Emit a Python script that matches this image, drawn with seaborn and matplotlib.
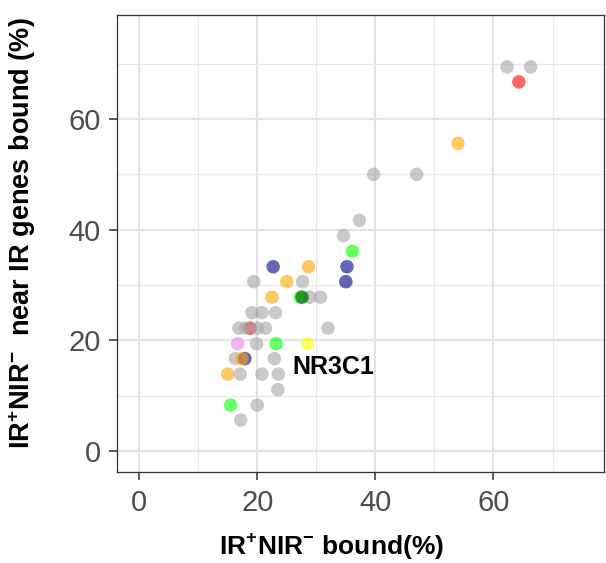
import matplotlib
matplotlib.use("Agg")
import matplotlib.pyplot as plt
import seaborn as sns
import pandas as pd
from matplotlib.ticker import MultipleLocator

# values (% bound)
# points that sit underneath the grey ones
under_x = [18.8]
under_y = [22.2]
under_group = ["red"]

grey_x = [62.3, 66.3, 39.7, 47.0, 37.3, 34.6, 19.4, 27.7, 28.9, 30.7, 19.1, 20.8, 23.1,
          16.9, 18.0, 20.0, 21.4, 32.0, 19.9, 16.3, 22.9, 17.1, 20.8, 23.6, 23.5, 20.0, 17.2]
grey_y = [69.4, 69.4, 50.0, 50.0, 41.7, 38.9, 30.6, 30.6, 27.8, 27.8, 25.0, 25.0, 25.0,
          22.2, 22.2, 22.2, 22.2, 22.2, 19.4, 16.7, 16.7, 13.9, 13.9, 13.9, 11.1, 8.3, 5.6]

hit_x = [22.7, 35.2, 35.0, 17.9, 64.3, 54.0, 28.7, 25.0, 22.5, 17.4, 15.0,
         36.1, 27.3, 23.2, 15.5, 27.6, 28.5, 16.7]
hit_y = [33.3, 33.3, 30.6, 16.7, 66.7, 55.6, 33.3, 30.6, 27.8, 16.7, 13.9,
         36.1, 27.8, 19.4, 8.3, 27.8, 19.4, 19.4]
hit_group = ["blue", "blue", "blue", "blue", "red", "orange", "orange", "orange", "orange",
             "orange", "orange", "green", "green", "green", "green", "darkgreen",
             "yellow", "violet"]

label_text = "NR3C1"
label_pos = (26.0, 15.2)

palette = {
    "grey": "#a6a6a6",
    "blue": "#00008B",
    "red": "#FF0000",
    "orange": "#FFA500",
    "green": "#00FF00",
    "darkgreen": "#005000",
    "yellow": "#FFFF00",
    "violet": "#EE82EE",
}

df = pd.DataFrame({
    "x": under_x + grey_x + hit_x,
    "y": under_y + grey_y + hit_y,
    "group": under_group + ["grey"] * len(grey_x) + hit_group,
})

sns.set_theme(style="whitegrid")
plt.rcParams["font.family"] = ["Liberation Sans", "DejaVu Sans"]
plt.rcParams["mathtext.fontset"] = "custom"
plt.rcParams["mathtext.rm"] = "Liberation Sans"
plt.rcParams["mathtext.bf"] = "Liberation Sans:bold"

fig = plt.figure(figsize=(6.06, 5.63), dpi=100)
ax = fig.add_axes([0.193, 0.162, 0.804, 0.811])

sns.scatterplot(data=df, x="x", y="y", hue="group", palette=palette, s=95,
                alpha=0.6, edgecolor=None, linewidth=0, legend=False, ax=ax)

ax.text(label_pos[0], label_pos[1], label_text, fontsize=18, fontweight="bold",
        color="black", ha="left", va="center")

ax.set_xlim(-3.75, 78.75)
ax.set_ylim(-3.75, 78.75)
ax.xaxis.set_major_locator(MultipleLocator(20))
ax.yaxis.set_major_locator(MultipleLocator(20))
ax.xaxis.set_minor_locator(MultipleLocator(10))
ax.yaxis.set_minor_locator(MultipleLocator(10))
ax.grid(which="major", color="#E3E3E3", linewidth=1.5)
ax.grid(which="minor", color="#E8E8E8", linewidth=0.8)
ax.set_axisbelow(True)

for sp in ax.spines.values():
    sp.set_color("#333333")
    sp.set_linewidth(0.9)

ax.tick_params(which="major", length=5.5, width=1.1, color="#333333",
               labelsize=21, labelcolor="#4D4D4D")
ax.tick_params(axis="x", pad=7)
ax.tick_params(axis="y", pad=6)
ax.tick_params(which="minor", length=0)
ax.tick_params(axis="x", bottom=True)
ax.tick_params(axis="y", left=True)

ax.set_xlabel(r"IR$^{\mathbf{+}}$NIR$^{\mathbf{-}}$ bound(%)", fontsize=19,
              fontweight="bold", color="black")
ax.set_ylabel(r"IR$^{\mathbf{+}}$NIR$^{\mathbf{-}}$  near IR genes bound (%)", fontsize=19.5,
              fontweight="bold", color="black")
ax.xaxis.set_label_coords(0.441, -0.13)
ax.yaxis.set_label_coords(-0.163, 0.522)

fig.savefig("out.png", dpi=100)
